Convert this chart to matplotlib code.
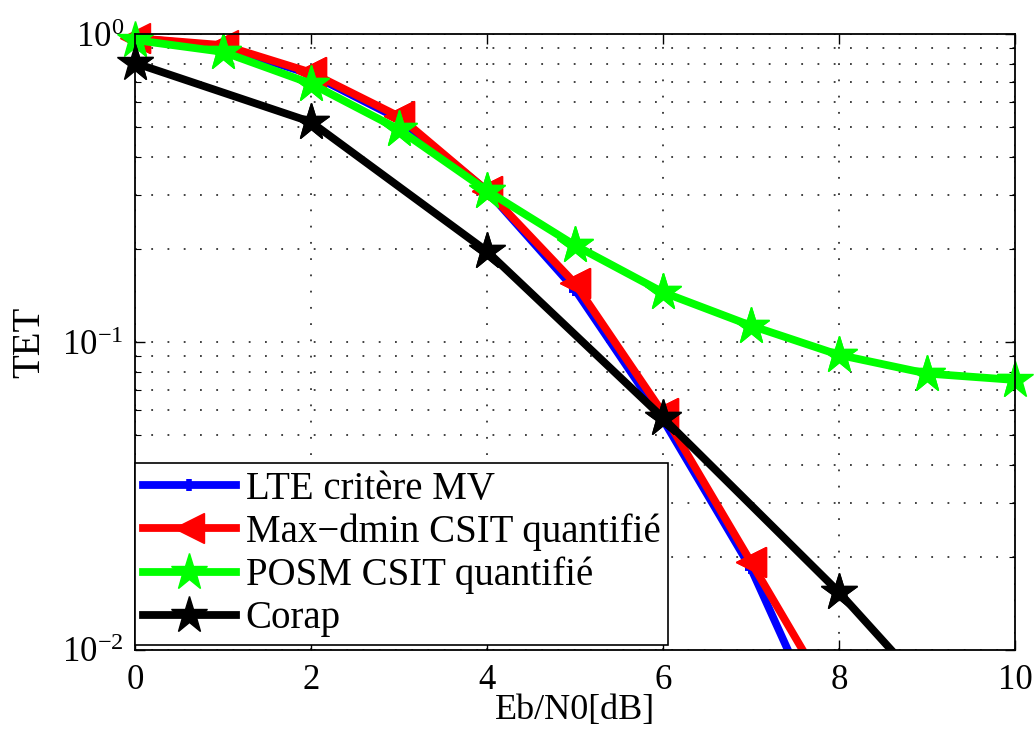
import numpy as np
import matplotlib
matplotlib.use("Agg")
import matplotlib.pyplot as plt
from matplotlib.ticker import LogLocator, NullFormatter

plt.rcParams['font.family'] = ['Liberation Serif', 'DejaVu Serif']
plt.rcParams['mathtext.fontset'] = 'stix'

# data
snr = [0, 1, 2, 3, 4, 5, 6, 7, 8]
lte_mv = [0.97, 0.91, 0.74, 0.53, 0.31, 0.148, 0.056, 0.0184, 0.0043]
maxdmin = [0.97, 0.92, 0.75, 0.54, 0.31, 0.155, 0.0588, 0.0193, 0.0063]
snr_posm = [0, 1, 2, 3, 4, 5, 6, 7, 8, 9, 10]
posm = [0.956, 0.875, 0.69, 0.49, 0.31, 0.206, 0.145, 0.113, 0.0908, 0.079, 0.0753]
snr_corap = [0, 2, 4, 6, 8, 10]
corap = [0.805, 0.518, 0.197, 0.0567, 0.0154, 0.0036]

series = [
    (snr, lte_mv, 'LTE critère MV', 'blue', '+', 9),
    (snr, maxdmin, 'Max\u2212dmin CSIT quantifié', 'red', '<', 22),
    (snr_posm, posm, 'POSM CSIT quantifié', '#00ff00', '*', 28),
    (snr_corap, corap, 'Corap', 'black', '*', 28),
]

fig = plt.figure(figsize=(10.36, 7.3), dpi=100)
ax = fig.add_axes([0.1303, 0.1096, 0.8494, 0.8438])
ymin = 1e-2

for xs, ys, lab, col, mk, ms in series:
    mew = 4 if mk == '+' else 1
    ax.plot(xs, ys, color=col, lw=5.6, marker=mk, ms=ms, mec=col, mfc=col, mew=mew, label=lab)
    xs_in = [x for x, y in zip(xs, ys) if y >= ymin]
    ys_in = [y for y in ys if y >= ymin]
    ax.plot(xs_in, ys_in, ls='none', marker=mk, ms=ms, mec=col, mfc=col, mew=mew, clip_on=False)

ax.set_yscale('log')
ax.set_xlim(0, 10)
ax.set_ylim(ymin, 1)
ax.set_xticks([0, 2, 4, 6, 8, 10])
ax.yaxis.set_major_locator(LogLocator(base=10, numticks=5))
ax.yaxis.set_minor_locator(LogLocator(base=10, subs=np.arange(2, 10), numticks=20))
ax.yaxis.set_minor_formatter(NullFormatter())
dots = (0, (1, 8))
ax.grid(True, which='major', ls=dots, color='#333333', lw=1.3)
ax.grid(True, which='minor', axis='y', ls=dots, color='#333333', lw=1.3)
ax.tick_params(which='both', direction='in', top=True, right=True, labelsize=25)
ax.tick_params(axis='x', pad=10)
ax.tick_params(axis='y', pad=8)
ax.tick_params(which='major', length=7, width=1)
ax.tick_params(which='minor', length=4, width=0.8)
for sp in ax.spines.values():
    sp.set_linewidth(1.3)

ax.set_xlabel('Eb/N0[dB]', fontsize=26, labelpad=-2)
ax.set_ylabel('TET', fontsize=28, labelpad=10)

leg = ax.legend(loc='lower left', bbox_to_anchor=(0.0, 0.008), fontsize=28, fancybox=False,
                edgecolor='black', framealpha=1, borderpad=0.2, labelspacing=0.15,
                handlelength=2.4, handletextpad=0.25, borderaxespad=0.0)
leg.get_frame().set_linewidth(1.2)

fig.savefig('out.png', dpi=100)
